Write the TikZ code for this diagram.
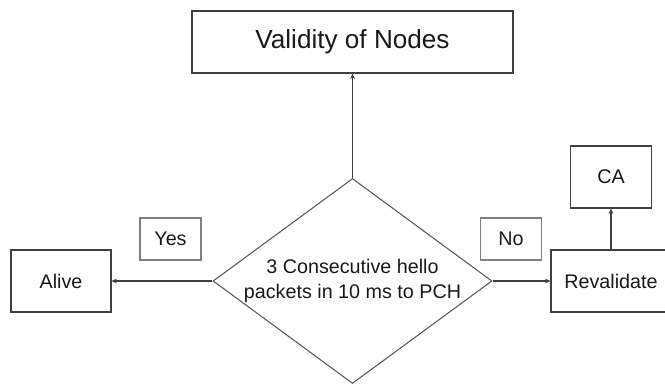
\documentclass[tikz,border=0pt]{standalone}
\usepackage{fontspec}
\setmainfont{Liberation Sans}
\usetikzlibrary{shapes.geometric,arrows.meta}
\begin{document}
\begin{tikzpicture}[x=0.75pt,y=0.75pt,>={Stealth[length=4pt,width=3.5pt]},
  every node/.style={font=\fontsize{14.8}{18.75}\selectfont,text=black!90},
  box/.style={rectangle,draw=black!75,line width=0.8pt,inner sep=0pt},
  tag/.style={rectangle,draw=black!50,line width=1.2pt,inner sep=0pt,
    minimum width=45.75pt,minimum height=31.5pt},
  arr/.style={->,draw=black!75,line width=0.8pt}]
\useasboundingbox (0,0) rectangle (665,383);

\node[box,minimum width=240.75pt,minimum height=46.5pt,
  font=\fontsize{19.6}{23}\selectfont] (valid) at (352.5,341) {Validity of Nodes};
\node[diamond,draw=black!65,line width=0.8pt,inner sep=0pt,aspect=1.36,
  minimum width=209.25pt,minimum height=153.75pt,align=center] (test) at (352.5,102)
  {3 Consecutive hello\\packets in 10 ms to PCH};
\node[box,minimum width=75pt,minimum height=46.5pt] (alive) at (61,102) {Alive};
\node[box,minimum width=90pt,minimum height=46.5pt] (reval) at (611,102) {Revalidate};
\node[box,minimum width=60.75pt,minimum height=46.5pt] (ca) at (611,206) {CA};
\node[tag] (yes) at (170.5,144) {Yes};
\node[tag] (no) at (511,144) {No};

\draw[arr] (test.north) -- (valid.south);
\draw[arr] (test.west) -- (alive.east);
\draw[arr] (test.east) -- (reval.west);
\draw[arr] (reval.north) -- (ca.south);
\end{tikzpicture}
\end{document}
